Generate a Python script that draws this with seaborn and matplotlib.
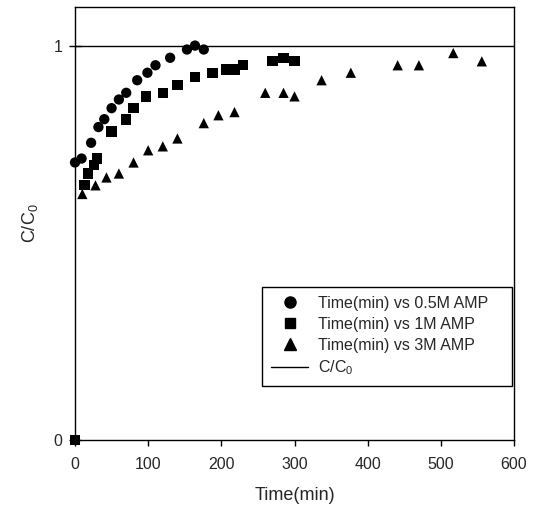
import matplotlib
matplotlib.use("Agg")
import matplotlib.pyplot as plt
import seaborn as sns
import pandas as pd
from matplotlib.lines import Line2D

# data
t_05 = [0, 9, 22, 32, 40, 50, 60, 70, 85, 99, 110, 130, 153, 164, 176]
c_05 = [0.705, 0.715, 0.755, 0.795, 0.815, 0.843, 0.865, 0.882, 0.914, 0.933, 0.952, 0.971, 0.992, 1.002, 0.992]

t_1 = [0, 13, 18, 26, 30, 50, 70, 80, 97, 120, 140, 164, 188, 207, 219, 230, 270, 285, 300]
c_1 = [0, 0.647, 0.677, 0.698, 0.715, 0.784, 0.814, 0.843, 0.873, 0.882, 0.901, 0.922, 0.932, 0.941, 0.941, 0.952, 0.962, 0.971, 0.962]

t_3 = [10, 28, 43, 60, 80, 100, 120, 140, 176, 196, 218, 260, 285, 300, 337, 377, 441, 470, 517, 556]
c_3 = [0.625, 0.647, 0.667, 0.677, 0.705, 0.736, 0.746, 0.766, 0.805, 0.825, 0.833, 0.882, 0.882, 0.873, 0.914, 0.933, 0.952, 0.952, 0.983, 0.962]

series_names = ["Time(min) vs 0.5M AMP", "Time(min) vs 1M AMP", "Time(min) vs 3M AMP"]
ref_label = "C/C$_0$"
ref_value = 1.0
x_ticks = [0, 100, 200, 300, 400, 500, 600]
y_ticks = [0, 1]

df = pd.concat([
    pd.DataFrame({"t": t_05, "c": c_05, "s": series_names[0]}),
    pd.DataFrame({"t": t_1, "c": c_1, "s": series_names[1]}),
    pd.DataFrame({"t": t_3, "c": c_3, "s": series_names[2]}),
])

sns.set_style("ticks")
plt.rcParams["font.family"] = ["Liberation Sans", "DejaVu Sans"]
plt.rcParams["mathtext.default"] = "regular"

fig = plt.figure(figsize=(5.34, 5.07), dpi=100)
ax = fig.add_axes([75/534, 1-440/507, 439/534, 433/507])

markers = {series_names[0]: "o", series_names[1]: "s", series_names[2]: "^"}
palette = {n: "black" for n in series_names}
sns.scatterplot(data=df, x="t", y="c", hue="s", style="s", markers=markers,
                palette=palette, s=55, edgecolor="black", linewidth=0,
                ax=ax, legend=False, clip_on=False, zorder=3)
ax.axhline(ref_value, color="black", lw=1, zorder=2)

ax.set_xlim(0, 600)
ax.set_ylim(0, 1.1)
ax.set_xticks(x_ticks)
ax.set_yticks(y_ticks)
ax.set_xticklabels([str(v) for v in x_ticks])
ax.set_yticklabels([str(v) for v in y_ticks])
ax.tick_params(axis="x", direction="out", length=4, width=1, labelsize=11.5, pad=8, color="black")
ax.tick_params(axis="y", direction="inout", length=8, width=1, labelsize=11.5, pad=5, color="black")
for sp in ax.spines.values():
    sp.set_visible(True)
    sp.set_color("black")
    sp.set_linewidth(1)

ax.set_xlabel("Time(min)", fontsize=13, labelpad=11)
ax.set_ylabel(ref_label, fontsize=13, labelpad=10)

handles = [
    Line2D([], [], ls="none", marker="o", color="black", markersize=8),
    Line2D([], [], ls="none", marker="s", color="black", markersize=7),
    Line2D([], [], ls="none", marker="^", color="black", markersize=8),
    Line2D([], [], color="black", lw=1),
]
x0 = (262 - 75) / 439
w = 250 / 439
ytop = (440 - 287) / 433
leg = ax.legend(handles, series_names + [ref_label], loc="upper left",
                bbox_to_anchor=(x0, ytop - 0.2, w, 0.2), mode="expand",
                borderaxespad=0, fontsize=11.5, frameon=True,
                fancybox=False, edgecolor="black", framealpha=1,
                labelspacing=0.37, handlelength=2.35, handletextpad=0.6,
                borderpad=0.55)
leg.get_frame().set_linewidth(1)

fig.savefig("out.png", dpi=100)
